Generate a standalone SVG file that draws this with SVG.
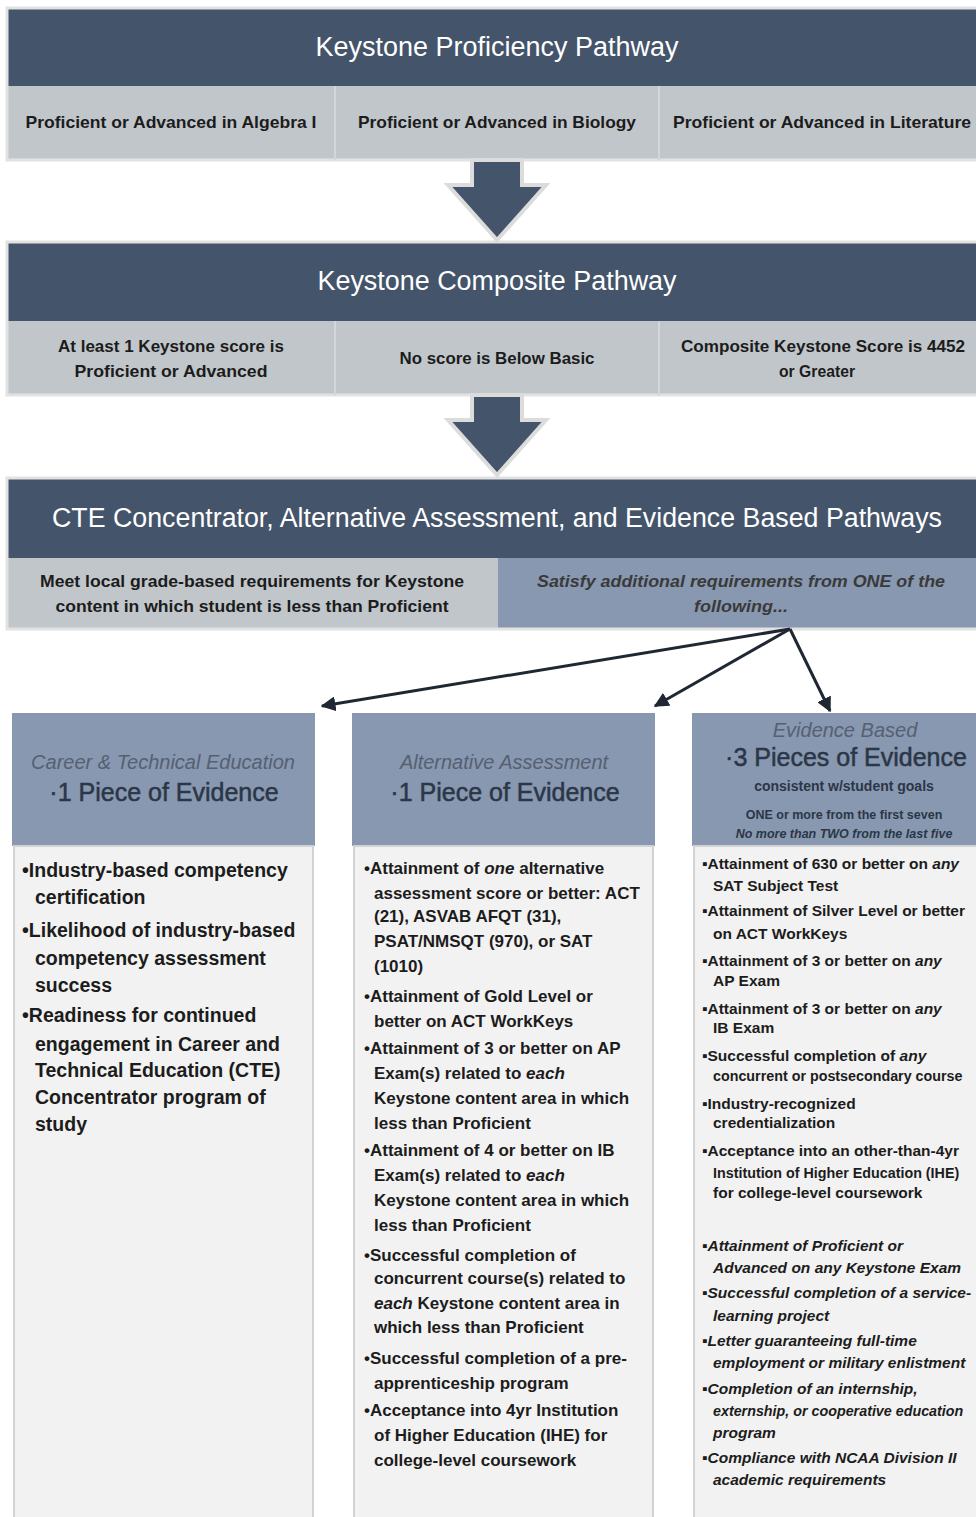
<svg xmlns="http://www.w3.org/2000/svg" width="976" height="1517" viewBox="0 0 976 1517">
<defs>
<style>
.dark{fill:#44546a}
.sub{fill:#c1c6cb}
.blue{fill:#8898b0}
.frame{fill:none;stroke:#e2e2e2;stroke-width:3}
.div{stroke:#d3d6da;stroke-width:2}
.body{fill:#f2f2f2;stroke:#d2d2d2;stroke-width:2}
.ban{font-family:"Liberation Sans",Arial,sans-serif;font-size:27px;fill:#ffffff;text-anchor:middle}
.st{font-family:"Liberation Sans",Arial,sans-serif;font-size:17px;font-weight:bold;fill:#1c1c1c;text-anchor:middle}
.sti{font-family:"Liberation Sans",Arial,sans-serif;font-size:17px;font-weight:bold;font-style:italic;fill:#3a3a3a;text-anchor:middle}
.hi{font-family:"Liberation Sans",Arial,sans-serif;font-size:20px;font-style:italic;fill:#566072;text-anchor:middle}
.hb{font-family:"Liberation Sans",Arial,sans-serif;font-size:25px;fill:#2b3647;stroke:#2b3647;stroke-width:0.5;text-anchor:middle}
.hs{font-family:"Liberation Sans",Arial,sans-serif;font-size:14px;font-weight:bold;fill:#2b3647;text-anchor:middle}
.hx{font-family:"Liberation Sans",Arial,sans-serif;font-size:12.5px;font-weight:bold;fill:#2b3647;text-anchor:middle}
.b1{font-family:"Liberation Sans",Arial,sans-serif;font-size:19.5px;font-weight:bold;fill:#1c1c1c}
.b2{font-family:"Liberation Sans",Arial,sans-serif;font-size:17px;font-weight:bold;fill:#1c1c1c}
.b3{font-family:"Liberation Sans",Arial,sans-serif;font-size:15.5px;font-weight:bold;fill:#1c1c1c}
.sm{font-size:14.3px}
.it{font-style:italic}
.arr{fill:#44546a;stroke:#dcdcdc;stroke-width:4;stroke-linejoin:miter}
.con{stroke:#1f2733;stroke-width:3;fill:none}
</style>
<marker id="ah" viewBox="0 0 10 10" refX="9" refY="5" markerWidth="5" markerHeight="5" orient="auto" markerUnits="strokeWidth">
<path d="M0,0 L10,5 L0,10 z" fill="#1f2733"/>
</marker>
</defs>

<g id="proficiency">
<rect class="dark" x="7" y="8" width="975" height="78"/>
<rect class="sub" x="7" y="86" width="975" height="74"/>
<rect class="frame" x="7" y="8" width="975" height="152"/>
<line class="div" x1="335" y1="86" x2="335" y2="160"/>
<line class="div" x1="659" y1="86" x2="659" y2="160"/>
<text class="ban" x="497" y="56" textLength="363" lengthAdjust="spacingAndGlyphs">Keystone Proficiency Pathway</text>
<text class="st" x="171" y="128" textLength="291" lengthAdjust="spacingAndGlyphs">Proficient or Advanced in Algebra I</text>
<text class="st" x="497" y="128" textLength="278" lengthAdjust="spacingAndGlyphs">Proficient or Advanced in Biology</text>
<text class="st" x="822" y="128" textLength="298" lengthAdjust="spacingAndGlyphs">Proficient or Advanced in Literature</text>
</g>

<g id="composite">
<rect class="dark" x="7" y="242" width="975" height="79"/>
<rect class="sub" x="7" y="321" width="975" height="74"/>
<rect class="frame" x="7" y="242" width="975" height="153"/>
<line class="div" x1="335" y1="321" x2="335" y2="395"/>
<line class="div" x1="659" y1="321" x2="659" y2="395"/>
<text class="ban" x="497" y="290" textLength="359" lengthAdjust="spacingAndGlyphs">Keystone Composite Pathway</text>
<text class="st" x="171" y="352" textLength="226" lengthAdjust="spacingAndGlyphs">At least 1 Keystone score is</text>
<text class="st" x="171" y="377" textLength="193" lengthAdjust="spacingAndGlyphs">Proficient or Advanced</text>
<text class="st" x="497" y="364" textLength="195" lengthAdjust="spacingAndGlyphs">No score is Below Basic</text>
<text class="st" x="823" y="352" textLength="284" lengthAdjust="spacingAndGlyphs">Composite Keystone Score is 4452</text>
<text class="st" x="817" y="377" textLength="76" lengthAdjust="spacingAndGlyphs">or Greater</text>
</g>

<g id="cte">
<rect class="dark" x="7" y="478" width="975" height="80"/>
<rect class="sub" x="7" y="558" width="491" height="71"/>
<rect class="blue" x="498" y="558" width="484" height="71"/>
<rect class="frame" x="7" y="478" width="975" height="151"/>
<text class="ban" x="497" y="527" textLength="890" lengthAdjust="spacingAndGlyphs">CTE Concentrator, Alternative Assessment, and Evidence Based Pathways</text>
<text class="st" x="252" y="587" textLength="424" lengthAdjust="spacingAndGlyphs">Meet local grade-based requirements for Keystone</text>
<text class="st" x="252" y="612" textLength="393" lengthAdjust="spacingAndGlyphs">content in which student is less than Proficient</text>
<text class="sti" x="741" y="587" textLength="408" lengthAdjust="spacingAndGlyphs">Satisfy additional requirements from ONE of the</text>
<text class="sti" x="741" y="612" textLength="94" lengthAdjust="spacingAndGlyphs">following...</text>
</g>

<g id="down-arrows">
<polygon class="arr" points="472,160 522,160 522,185 546,185 497,240 448,185 472,185"/>
<polygon class="arr" points="472,395 522,395 522,420 546,420 497,475 448,420 472,420"/>
</g>

<g id="connectors">
<line class="con" x1="790" y1="629" x2="322" y2="706" marker-end="url(#ah)"/>
<line class="con" x1="790" y1="629" x2="655" y2="706" marker-end="url(#ah)"/>
<line class="con" x1="790" y1="629" x2="830" y2="711" marker-end="url(#ah)"/>
</g>

<g id="career-technical">
<rect class="blue" x="12" y="713" width="303" height="133"/>
<rect class="body" x="14" y="846" width="299" height="680"/>
<text class="hi" x="163" y="769">Career &amp; Technical Education</text>
<text class="hb" x="164" y="801">·1 Piece of Evidence</text>
<text class="b1" x="22" y="877">•Industry-based competency</text>
<text class="b1" x="35" y="904">certification</text>
<text class="b1" x="22" y="937">•Likelihood of industry-based</text>
<text class="b1" x="35" y="965">competency assessment</text>
<text class="b1" x="35" y="992">success</text>
<text class="b1" x="22" y="1022">•Readiness for continued</text>
<text class="b1" x="35" y="1051">engagement in Career and</text>
<text class="b1" x="35" y="1077">Technical Education (CTE)</text>
<text class="b1" x="35" y="1104">Concentrator program of</text>
<text class="b1" x="35" y="1131">study</text>
</g>

<g id="alternative-assessment">
<rect class="blue" x="352" y="713" width="303" height="133"/>
<rect class="body" x="354" y="846" width="299" height="680"/>
<text class="hi" x="504" y="769">Alternative Assessment</text>
<text class="hb" x="505" y="801">·1 Piece of Evidence</text>
<text class="b2" x="364" y="874">•Attainment of <tspan class="it">one</tspan> alternative</text>
<text class="b2" x="374" y="899">assessment score or better: ACT</text>
<text class="b2" x="374" y="922">(21), ASVAB AFQT (31),</text>
<text class="b2" x="374" y="947">PSAT/NMSQT (970), or SAT</text>
<text class="b2" x="374" y="972">(1010)</text>
<text class="b2" x="364" y="1002">•Attainment of Gold Level or</text>
<text class="b2" x="374" y="1027">better on ACT WorkKeys</text>
<text class="b2" x="364" y="1054">•Attainment of 3 or better on AP</text>
<text class="b2" x="374" y="1079">Exam(s) related to <tspan class="it">each</tspan></text>
<text class="b2" x="374" y="1104">Keystone content area in which</text>
<text class="b2" x="374" y="1129">less than Proficient</text>
<text class="b2" x="364" y="1156">•Attainment of 4 or better on IB</text>
<text class="b2" x="374" y="1181">Exam(s) related to <tspan class="it">each</tspan></text>
<text class="b2" x="374" y="1206">Keystone content area in which</text>
<text class="b2" x="374" y="1231">less than Proficient</text>
<text class="b2" x="364" y="1261">•Successful completion of</text>
<text class="b2" x="374" y="1284">concurrent course(s) related to</text>
<text class="b2" x="374" y="1309"><tspan class="it">each</tspan> Keystone content area in</text>
<text class="b2" x="374" y="1333">which less than Proficient</text>
<text class="b2" x="364" y="1364">•Successful completion of a pre-</text>
<text class="b2" x="374" y="1389">apprenticeship program</text>
<text class="b2" x="364" y="1416">•Acceptance into 4yr Institution</text>
<text class="b2" x="374" y="1441">of Higher Education (IHE) for</text>
<text class="b2" x="374" y="1466">college-level coursework</text>
</g>

<g id="evidence-based">
<rect class="blue" x="692" y="713" width="290" height="133"/>
<rect class="body" x="694" y="846" width="290" height="680"/>
<text class="hi" x="845" y="737">Evidence Based</text>
<text class="hb" x="846" y="766">·3 Pieces of Evidence</text>
<text class="hs" x="844" y="791">consistent w/student goals</text>
<text class="hx" x="844" y="819">ONE or more from the first seven</text>
<text class="hx it" x="844" y="838">No more than TWO from the last five</text>
<text class="b3" x="702" y="869">▪Attainment of 630 or better on <tspan class="it">any</tspan></text>
<text class="b3" x="713" y="891">SAT Subject Test</text>
<text class="b3" x="702" y="916">▪Attainment of Silver Level or better</text>
<text class="b3" x="713" y="939">on ACT WorkKeys</text>
<text class="b3" x="702" y="966">▪Attainment of 3 or better on <tspan class="it">any</tspan></text>
<text class="b3" x="713" y="986">AP Exam</text>
<text class="b3" x="702" y="1014">▪Attainment of 3 or better on <tspan class="it">any</tspan></text>
<text class="b3" x="713" y="1033">IB Exam</text>
<text class="b3" x="702" y="1061">▪Successful completion of <tspan class="it">any</tspan></text>
<text class="b3 sm" x="713" y="1081">concurrent or postsecondary course</text>
<text class="b3" x="702" y="1109">▪Industry-recognized</text>
<text class="b3" x="713" y="1128">credentialization</text>
<text class="b3" x="702" y="1156">▪Acceptance into an other-than-4yr</text>
<text class="b3 sm" x="713" y="1178">Institution of Higher Education (IHE)</text>
<text class="b3" x="713" y="1198">for college-level coursework</text>
<text class="b3 it" x="702" y="1251">▪Attainment of Proficient or</text>
<text class="b3 it" x="713" y="1273">Advanced on any Keystone Exam</text>
<text class="b3 it" x="702" y="1298">▪Successful completion of a service-</text>
<text class="b3 it" x="713" y="1321">learning project</text>
<text class="b3 it" x="702" y="1346">▪Letter guaranteeing full-time</text>
<text class="b3 it" x="713" y="1368">employment or military enlistment</text>
<text class="b3 it" x="702" y="1394">▪Completion of an internship,</text>
<text class="b3 it sm" x="713" y="1416">externship, or cooperative education</text>
<text class="b3 it" x="713" y="1438">program</text>
<text class="b3 it" x="702" y="1463">▪Compliance with NCAA Division II</text>
<text class="b3 it" x="713" y="1485">academic requirements</text>
</g>
</svg>
